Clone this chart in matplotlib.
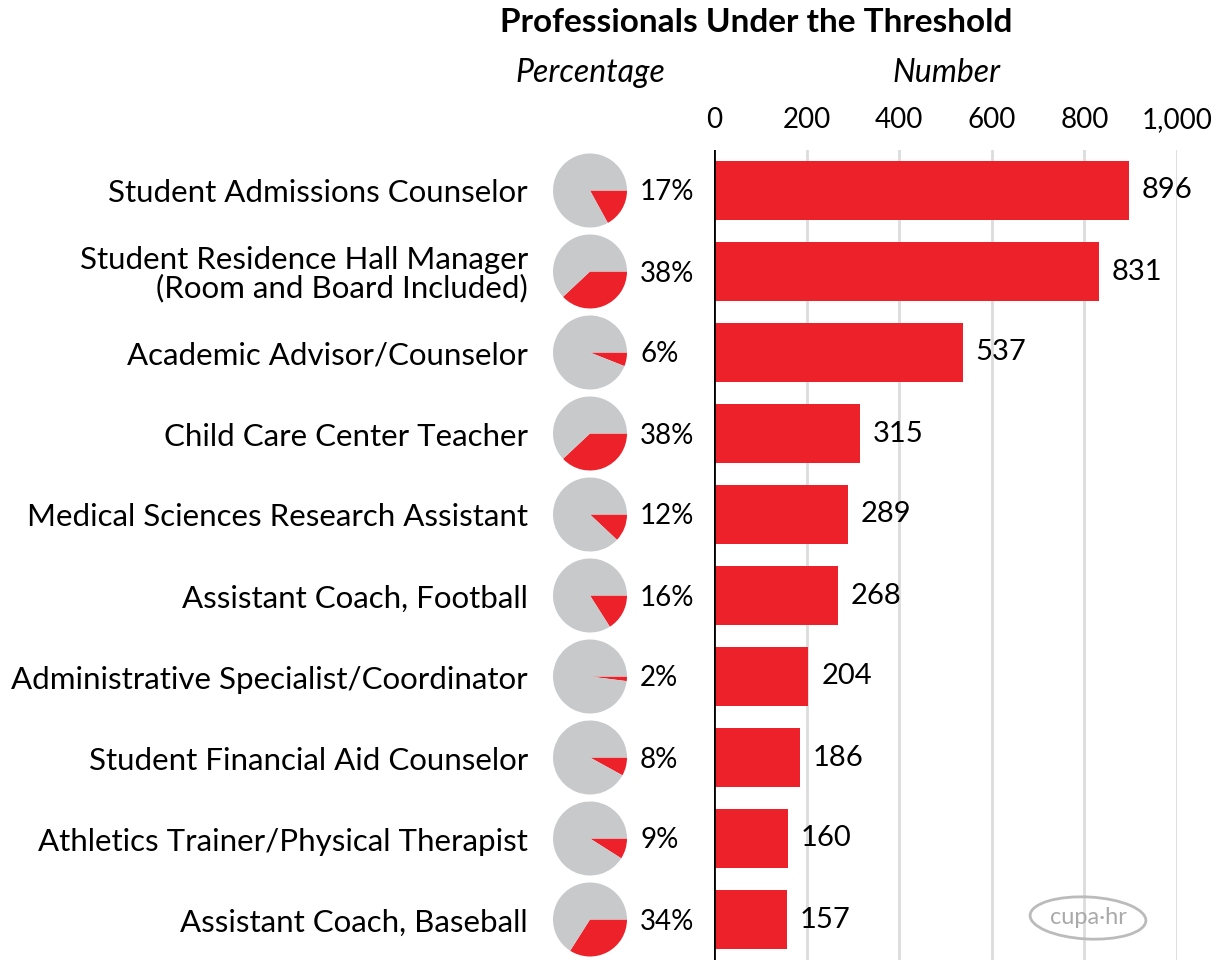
import matplotlib.pyplot as plt
from matplotlib.patches import Ellipse

plt.rcParams['font.family'] = ['Lato', 'DejaVu Sans']

# Data
jobs = ['Student Admissions Counselor',
        'Student Residence Hall Manager\n(Room and Board Included)',
        'Academic Advisor/Counselor',
        'Child Care Center Teacher',
        'Medical Sciences Research Assistant',
        'Assistant Coach, Football',
        'Administrative Specialist/Coordinator',
        'Student Financial Aid Counselor',
        'Athletics Trainer/Physical Therapist',
        'Assistant Coach, Baseball']
numbers = [896, 831, 537, 315, 289, 268, 204, 186, 160, 157]
percents = [17, 38, 6, 38, 12, 16, 2, 8, 9, 34]
ticks = [0, 200, 400, 600, 800, 1000]
tick_labels = ['0', '200', '400', '600', '800', '1,000']

red = '#ED2129'
gray = '#C8C9CB'
W, H = 1228, 960

fig = plt.figure(figsize=(12.28, 9.6), dpi=100)
ax = fig.add_axes([714 / W, 0, (1177 - 714) / W, (960 - 150) / H])

y = range(len(jobs))
ax.barh(y, numbers, height=0.72, color=red, zorder=2)
ax.set_ylim(len(jobs) - 0.5, -0.5)
ax.set_xlim(0, 1000)
for xv in ticks[1:]:
    ax.axvline(xv, color='#DCDCDC', lw=2, zorder=1)
ax.axvline(0, color='black', lw=2, zorder=3)
for s in ax.spines.values():
    s.set_visible(False)
ax.set_yticks([])
ax.xaxis.tick_top()
ax.set_xticks(ticks)
ax.set_xticklabels(tick_labels, fontsize=20)
ax.tick_params(axis='x', length=0, pad=12)

for i, (n, p, job) in enumerate(zip(numbers, percents, jobs)):
    ax.text(n + 28, i, str(n), va='center', ha='left', fontsize=21, clip_on=False)
    # row centre in figure pixels
    _, yc = ax.transData.transform((0, i))
    yc = yc / fig.dpi * 100
    r = 37
    pax = fig.add_axes([(590 - r) / W, (yc - r) / H, 2 * r / W, 2 * r / H])
    pax.pie([p, 100 - p], colors=[red, gray], startangle=0, counterclock=False,
            wedgeprops=dict(linewidth=0))
    pax.set_xlim(-1, 1)
    pax.set_ylim(-1, 1)
    pax.set_aspect('equal')
    fig.text(640 / W, (yc - 2) / H, f'{p}%', ha='left', va='center', fontsize=20)
    fig.text(528 / W, (yc - 3) / H, job, ha='right', va='center', fontsize=22.5,
             multialignment='right', linespacing=1.0)

fig.text(756 / W, 1 - 22 / H, 'Professionals Under the Threshold',
         ha='center', va='center', fontsize=24, fontweight='bold')
fig.text(590 / W, 1 - 73 / H, 'Percentage', ha='center', va='center',
         fontsize=23, style='italic')
fig.text(946 / W, 1 - 73 / H, 'Number', ha='center', va='center',
         fontsize=23, style='italic')

# logo
fig.patches.append(Ellipse((1088 / W, 1 - 918 / H), 116 / W, 42 / H, angle=-4,
                           transform=fig.transFigure, fill=False,
                           edgecolor='#BBBBBB', lw=2))
fig.text(1088 / W, 1 - 918 / H, 'cupa·hr', ha='center', va='center',
         fontsize=17, color='#AAAAAA')

fig.savefig('out.png', dpi=100)
